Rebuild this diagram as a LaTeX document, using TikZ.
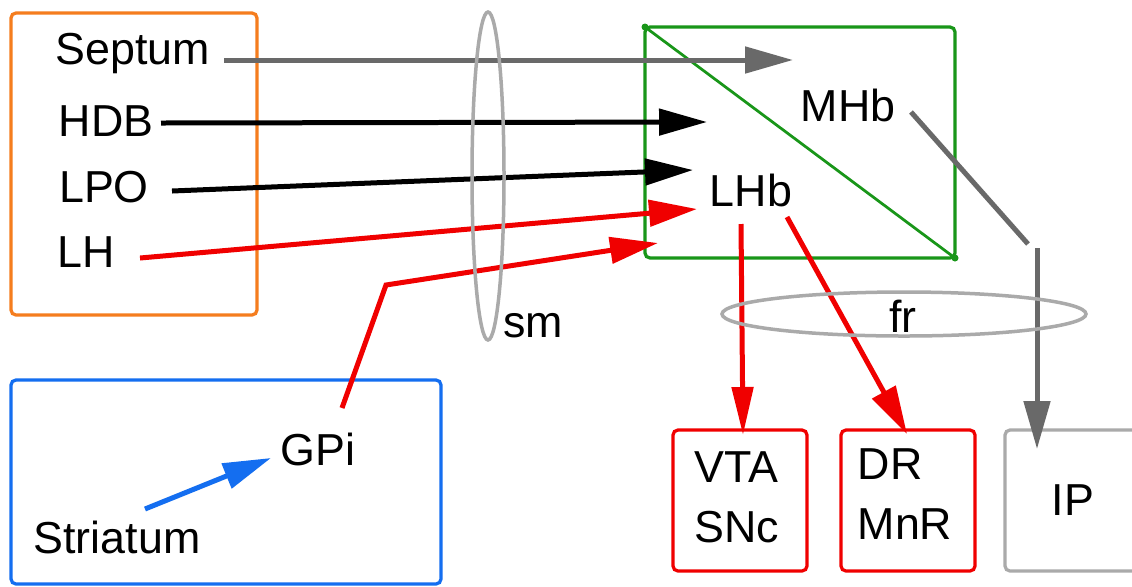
\documentclass[tikz,border=0pt]{standalone}
\usepackage{fontspec}
\setmainfont{Liberation Sans}
\usetikzlibrary{arrows.meta}
\definecolor{corange}{RGB}{245,125,30}
\definecolor{cblue}{RGB}{20,110,240}
\definecolor{cgreen}{RGB}{25,150,25}
\definecolor{cred}{RGB}{240,0,0}
\definecolor{cgray}{RGB}{105,105,105}
\definecolor{lgray}{RGB}{170,170,170}
\begin{document}
\begin{tikzpicture}[x=0.02cm,y=-0.02cm,
  lbl/.style={font=\fontsize{25.5}{34}\selectfont, inner sep=0pt},
  regbox/.style={line width=0.065cm, rounded corners=0.1cm},
  conn/.style={line width=0.1cm, -{Triangle[length=0.96cm,width=0.52cm]}},
  plain/.style={line width=0.1cm}]
\clip (0,0) rectangle (1132,586);
\fill[white] (0,0) rectangle (1132,586);
% region boxes
\draw[regbox, draw=corange] (11,13) rectangle (257,315);
\draw[regbox, draw=cblue] (11,380) rectangle (441,584);
\draw[regbox, draw=cgreen] (645,27) rectangle (955,258);
\draw[line width=0.055cm, draw=cgreen] (645,27) -- (955,258);
\fill[cgreen] (645,27) circle (3.5);
\fill[cgreen] (955,258) circle (3.5);
\draw[regbox, draw=cred] (673,430) rectangle (807,571);
\draw[regbox, draw=cred] (841,430) rectangle (975,571);
\draw[regbox, draw=lgray] (1005,430) rectangle (1160,571);
% labels
\node[lbl] (septum) at (133,53) {Septum};
\node[lbl] (hdb) at (106,121) {HDB};
\node[lbl] (lpo) at (104,187) {LPO};
\node[lbl] (lh) at (86,252) {LH};
\node[lbl] (mhb) at (848,105) {MHb};
\node[lbl] (lhb) at (751,190) {LHb};
\node[lbl] (gpi) at (318,449) {GPi};
\node[lbl] (striatum) at (117,537) {Striatum};
\node[lbl, align=left] (vta) at (737,497) {VTA\\SNc};
\node[lbl, align=left] (dr) at (905,494) {DR\\MnR};
\node[lbl] (ip) at (1073,500) {IP};
% coordinates
\coordinate (sS) at (224,60);  \coordinate (sE) at (793,60);
\coordinate (hS) at (161,123); \coordinate (hE) at (707,122);
\coordinate (lS) at (172,191); \coordinate (lE) at (693,170);
\coordinate (rS) at (140,258); \coordinate (rE) at (697,209);
\coordinate (gS) at (342,408); \coordinate (gB) at (386,285); \coordinate (gE) at (658,243);
\coordinate (bS) at (145,509); \coordinate (bE) at (271,458);
\coordinate (mS) at (911,112); \coordinate (mB) at (1028,244);
\coordinate (iS) at (1037,248); \coordinate (iE) at (1037,449);
\coordinate (vS) at (741,224); \coordinate (vE) at (743,435);
\coordinate (dS) at (787,217); \coordinate (dE) at (907,434);
% connectors
\draw[conn, draw=cgray] (sS) -- (sE);
\draw[conn, draw=black] (hS) -- (hE);
\draw[conn, draw=black] (lS) -- (lE);
\draw[conn, draw=cred] (rS) -- (rE);
\draw[conn, draw=cred] (gS) -- (gB) -- (gE);
\draw[conn, draw=cblue] (bS) -- (bE);
\draw[plain, draw=cgray] (mS) -- (mB);
\draw[conn, draw=cgray] (iS) -- (iE);
\draw[conn, draw=cred, -{Triangle[length=0.96cm,width=0.42cm]}] (vS) -- (vE);
\draw[conn, draw=cred] (dS) -- (dE);
% fibre bundles
\draw[draw=lgray, line width=0.07cm] (488,176) ellipse (16 and 164);
\node[lbl] (sm) at (533,326) {sm};
\draw[draw=lgray, line width=0.07cm] (904,314) ellipse (182 and 22);
\node[lbl] (fr) at (903,316) {fr};
\end{tikzpicture}
\end{document}
